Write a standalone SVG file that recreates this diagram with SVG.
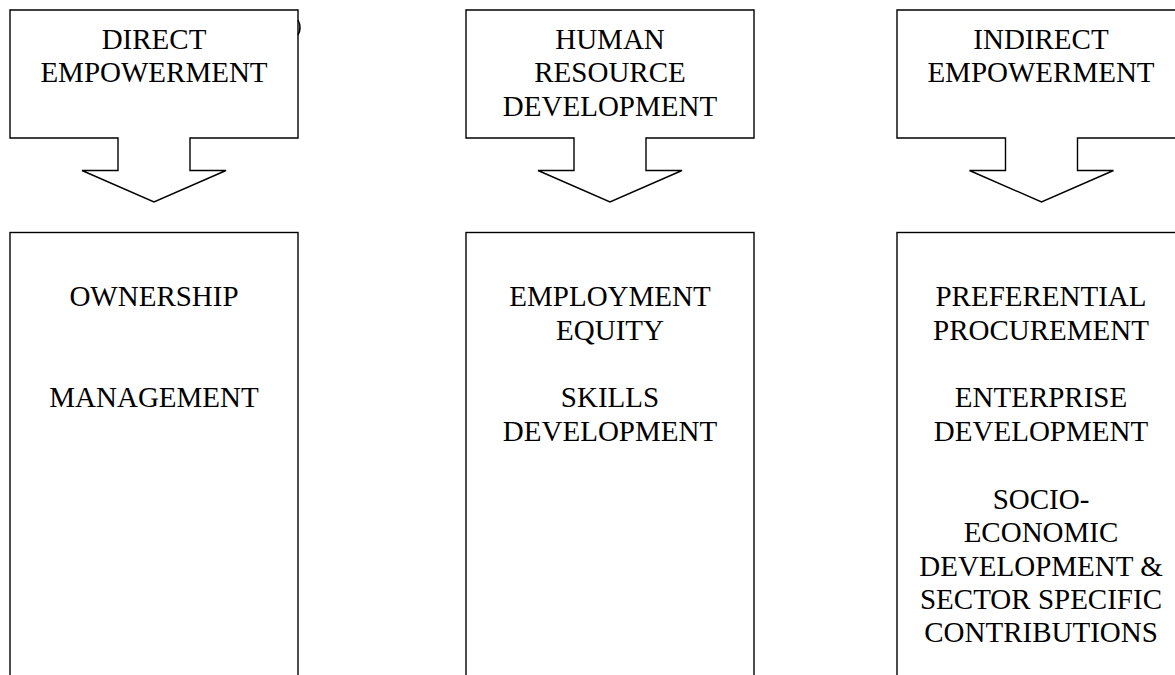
<svg xmlns="http://www.w3.org/2000/svg" width="1175" height="675" viewBox="0 0 1175 675">
<style>
.shape{fill:#ffffff;stroke:#000000;stroke-width:1.4}
.t{font-family:"Liberation Serif","Times New Roman",serif;font-size:29px;fill:#000000;text-anchor:middle}
</style>
<rect width="1175" height="675" fill="#ffffff"/>
<g id="callout-direct">
<path class="shape" d="M10,10 H298 V138 H190 V170.5 H226 L154,202 L82,170.5 H118 V138 H10 Z"/>
<path d="M298,20 Q302,27.5 298,35" fill="none" stroke="#000" stroke-width="1.5"/>
<text class="t" x="154" y="48.5">DIRECT</text>
<text class="t" x="154" y="82">EMPOWERMENT</text>
</g>
<g id="callout-hrd">
<path class="shape" d="M466,10 H754 V138 H646 V170.5 H682 L610,202 L538,170.5 H574 V138 H466 Z"/>
<text class="t" x="610" y="48.5">HUMAN</text>
<text class="t" x="610" y="82">RESOURCE</text>
<text class="t" x="610" y="115.5">DEVELOPMENT</text>
</g>
<g id="callout-indirect">
<path class="shape" d="M897,10 H1186 V138 H1077.5 V170.5 H1113.5 L1041.5,202 L969.5,170.5 H1005.5 V138 H897 Z"/>
<text class="t" x="1041" y="48.5">INDIRECT</text>
<text class="t" x="1041" y="82">EMPOWERMENT</text>
</g>
<g id="box-direct">
<rect class="shape" x="10" y="232.5" width="288" height="500"/>
<text class="t" x="154" y="306">OWNERSHIP</text>
<text class="t" x="154" y="407">MANAGEMENT</text>
</g>
<g id="box-hrd">
<rect class="shape" x="466" y="232.5" width="288" height="500"/>
<text class="t" x="610" y="306">EMPLOYMENT</text>
<text class="t" x="610" y="339.5">EQUITY</text>
<text class="t" x="610" y="407">SKILLS</text>
<text class="t" x="610" y="440.5">DEVELOPMENT</text>
</g>
<g id="box-indirect">
<rect class="shape" x="897" y="232.5" width="289" height="500"/>
<text class="t" x="1041" y="306">PREFERENTIAL</text>
<text class="t" x="1041" y="339.5">PROCUREMENT</text>
<text class="t" x="1041" y="407">ENTERPRISE</text>
<text class="t" x="1041" y="440.5">DEVELOPMENT</text>
<text class="t" x="1041" y="509">SOCIO-</text>
<text class="t" x="1041" y="542">ECONOMIC</text>
<text class="t" x="1041" y="575.5">DEVELOPMENT &amp;</text>
<text class="t" x="1041" y="609">SECTOR SPECIFIC</text>
<text class="t" x="1041" y="642">CONTRIBUTIONS</text>
</g>
<g id="connectors"></g>
</svg>
